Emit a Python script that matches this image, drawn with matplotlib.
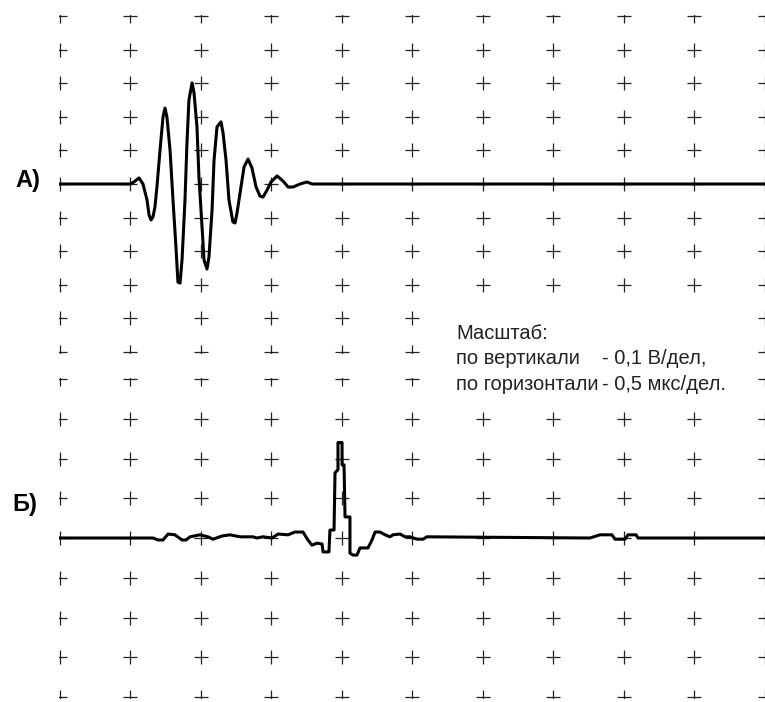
import numpy as np
import matplotlib
matplotlib.use("Agg")
from matplotlib import pyplot as plt
from matplotlib.patches import Rectangle

W, H = 765, 702

# trace A (upper panel): time in us, voltage in V (0.5 us/div, 0.1 V/div)
t_a = [0.0, 0.500, 0.528, 0.564, 0.592, 0.621, 0.635, 0.649, 0.663, 0.677, 0.691,
       0.713, 0.734, 0.748, 0.762, 0.784, 0.805, 0.826, 0.840, 0.855, 0.869,
       0.890, 0.904, 0.918, 0.940, 0.954, 0.975, 0.989, 1.011, 1.025, 1.046,
       1.060, 1.082, 1.096, 1.117, 1.145, 1.160, 1.181, 1.202, 1.230, 1.245,
       1.259, 1.287, 1.309, 1.337, 1.365, 1.394, 1.422, 1.443, 1.472, 1.500,
       1.543, 1.585, 1.621, 1.656, 1.706, 1.755, 1.791, 5.0]
v_a = [0.0, 0.0, 0.006, 0.018, 0.0, -0.048, -0.092, -0.107, -0.098, -0.068, -0.009,
       0.101, 0.199, 0.226, 0.199, 0.101, -0.048, -0.188, -0.292, -0.295, -0.226,
       -0.048, 0.122, 0.250, 0.301, 0.271, 0.170, 0.021, -0.128, -0.226, -0.253,
       -0.217, -0.077, 0.071, 0.170, 0.185, 0.152, 0.071, -0.048, -0.113, -0.116,
       -0.086, -0.009, 0.051, 0.074, 0.048, -0.009, -0.036, -0.039, -0.018, 0.006,
       0.024, 0.009, -0.009, -0.009, 0.0, 0.006, 0.0, 0.0]

# trace B (lower panel)
t_b = [0.0, 0.663, 0.699, 0.734, 0.770, 0.819, 0.869, 0.897, 0.926, 0.996, 1.053,
       1.089, 1.152, 1.209, 1.280, 1.372, 1.401, 1.443, 1.507, 1.550, 1.621, 1.670,
       1.727, 1.762, 1.791, 1.826, 1.862, 1.869, 1.911, 1.918, 1.947, 1.954, 1.975,
       1.975, 2.004, 2.004, 2.018, 2.025, 2.060, 2.060, 2.082, 2.110, 2.131, 2.188,
       2.216, 2.238, 2.273, 2.309, 2.344, 2.365, 2.415, 2.450, 2.486, 2.535, 2.578,
       2.606, 3.762, 3.833, 3.918, 3.940, 4.011, 4.032, 4.089, 4.103, 5.0]
v_b = [0.0, 0.0, -0.005, -0.005, 0.010, 0.008, -0.005, -0.005, 0.003, 0.008, 0.003,
       -0.003, 0.005, 0.008, 0.003, 0.003, 0.0, 0.003, 0.0, 0.010, 0.008, 0.015,
       0.015, -0.005, -0.018, -0.013, -0.015, -0.035, -0.035, 0.020, 0.020, 0.164, 0.172,
       0.240, 0.240, 0.184, 0.184, 0.053, 0.053, -0.038, -0.043, -0.043, -0.025, -0.025,
       -0.005, 0.015, 0.015, 0.008, 0.003, 0.008, 0.010, 0.003, 0.003, -0.003, -0.003,
       0.003, 0.0, 0.008, 0.008, -0.003, -0.003, 0.008, 0.008, 0.0, 0.0]

fig = plt.figure(figsize=(W / 100, H / 100), dpi=100)
fig.patch.set_facecolor("white")


def panel(top_px, bot_px, vmax):
    pad = 1.0
    left, right = 59.5 - pad, 764.5 + pad
    ax = fig.add_axes([left / W, 1 - (bot_px + pad) / H,
                       (right - left) / W, (bot_px - top_px + 2 * pad) / H])
    dx = 5.0 / 705 * pad
    dy = 2 * vmax / (bot_px - top_px) * pad
    ax.set_xlim(-dx, 5.0 + dx)
    ax.set_ylim(-vmax - dy, vmax + dy)
    ax.axis("off")
    gx, gy = np.meshgrid(np.arange(0, 5.001, 0.5),
                         np.arange(-vmax, vmax + 1e-9, 0.1))
    ax.plot(gx.ravel(), gy.ravel(), "+", ms=10, mew=0.9, color="#222222",
            linestyle="none", clip_on=True, zorder=1)
    return ax


ax1 = panel(16, 352, 0.5)
ax1.plot(t_a, v_a, color="black", lw=2.2, zorder=3)

ax2 = panel(379, 697, 0.4)
ax2.plot(t_b, v_b, color="black", lw=2.2, zorder=3)

# white box behind the scale note hides the grid crosses there
fig.add_artist(Rectangle((440 / W, 1 - 400 / H), 310 / W, 92 / H,
                         transform=fig.transFigure, facecolor="white",
                         edgecolor="none", zorder=2))

font = "Liberation Sans"
fig.text(15 / W, 1 - 187 / H, "А)", fontsize=17, fontweight="bold",
         family=font, va="baseline", ha="left")
fig.text(12 / W, 1 - 511 / H, "Б)", fontsize=17, fontweight="bold",
         family=font, va="baseline", ha="left")

fs = 14.5
fig.text(456 / W, 1 - 339 / H, "Масштаб:", fontsize=fs, family=font,
         color="#222222", va="baseline")
fig.text(456 / W, 1 - 364 / H, "по вертикали", fontsize=fs, family=font,
         color="#222222", va="baseline")
fig.text(602 / W, 1 - 364 / H, "- 0,1 В/дел,", fontsize=fs, family=font,
         color="#222222", va="baseline")
fig.text(456 / W, 1 - 390 / H, "по горизонтали", fontsize=fs, family=font,
         color="#222222", va="baseline")
fig.text(602 / W, 1 - 390 / H, "- 0,5 мкс/дел.", fontsize=fs, family=font,
         color="#222222", va="baseline")

fig.savefig("out.png", dpi=100, facecolor="white")
